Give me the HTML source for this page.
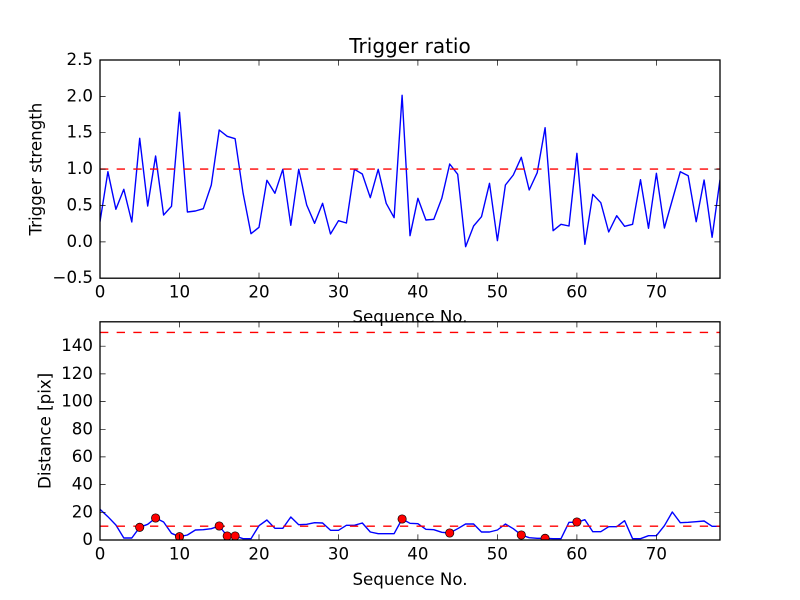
<!DOCTYPE html>
<html>
<head>
<meta charset="utf-8">
<style>
html,body{margin:0;padding:0;background:#fff;}
svg{display:block;}
text{font-family:"DejaVu Sans","Liberation Sans",sans-serif;fill:#000;}
</style>
</head>
<body>
<svg width="800" height="600" viewBox="0 0 800 600" xmlns="http://www.w3.org/2000/svg">
<rect x="0" y="0" width="800" height="600" fill="#fff"/>
<defs>
<clipPath id="c1"><rect x="100" y="60" width="620" height="218.2"/></clipPath>
<clipPath id="c2"><rect x="100" y="321.8" width="620" height="218.2"/></clipPath>
</defs>

<!-- ===== Top axes ===== -->
<g clip-path="url(#c1)">
<polyline fill="none" stroke="#0000ff" stroke-width="1.39" stroke-linejoin="round" points="100,221.7 107.9,171.7 115.9,209.3 123.8,189.3 131.8,222 139.7,138.3 147.7,206 155.6,156 163.6,215 171.5,206.3 179.5,112.3 187.4,212 195.4,211 203.3,208.7 211.3,185 219.2,130 227.2,136.3 235.1,138.7 243.1,193.3 251,233.7 259,227.3 266.9,180.3 274.9,193.3 282.8,169.3 290.8,225.3 298.7,169.3 306.7,205 314.6,223.3 322.6,203.3 330.5,234 338.5,220.7 346.4,223 354.4,169.3 362.3,174 370.3,197.7 378.2,169.3 386.2,203.3 394.1,217.7 402.1,95.3 410,235.7 417.9,198.3 425.9,220 433.8,219.3 441.8,198.3 449.7,164 457.7,174.3 465.6,246.7 473.6,226 481.5,216.7 489.5,183.3 497.4,240.7 505.4,185 513.3,175 521.3,157.3 529.2,190 537.2,172.7 545.1,127.7 553.1,230.7 561,224.3 569,226 576.9,153.3 584.9,244.3 592.8,194.3 600.8,202.7 608.7,232 616.7,215.7 624.6,226.3 632.6,224.3 640.5,179.7 648.5,228.3 656.4,173.3 664.4,228 672.3,200 680.3,171.7 688.2,175.7 696.2,221.7 704.1,180 712.1,237.3 720,179.7"/>
<line x1="100" y1="169.1" x2="720" y2="169.1" stroke="#ff0000" stroke-width="1.39" stroke-dasharray="8.33,8.33"/>
</g>
<!-- top ticks -->
<g stroke="#000" stroke-width="0.7" fill="none">
<path d="M100,278.2v-5.6 M179.5,278.2v-5.6 M259,278.2v-5.6 M338.5,278.2v-5.6 M417.9,278.2v-5.6 M497.4,278.2v-5.6 M576.9,278.2v-5.6 M656.4,278.2v-5.6"/>
<path d="M100,60v5.6 M179.5,60v5.6 M259,60v5.6 M338.5,60v5.6 M417.9,60v5.6 M497.4,60v5.6 M576.9,60v5.6 M656.4,60v5.6"/>
<path d="M100,278.2h5.6 M100,241.9h5.6 M100,205.5h5.6 M100,169.1h5.6 M100,132.7h5.6 M100,96.4h5.6 M100,60h5.6"/>
<path d="M720,278.2h-5.6 M720,241.9h-5.6 M720,205.5h-5.6 M720,169.1h-5.6 M720,132.7h-5.6 M720,96.4h-5.6 M720,60h-5.6"/>
</g>
<rect x="100" y="60" width="620" height="218.2" fill="none" stroke="#000" stroke-width="1.3"/>
<!-- top tick labels -->
<g font-size="16.67" text-anchor="end">
<text x="93" y="283.2">−0.5</text>
<text x="93" y="246.9">0.0</text>
<text x="93" y="210.5">0.5</text>
<text x="93" y="174.1">1.0</text>
<text x="93" y="137.7">1.5</text>
<text x="93" y="101.4">2.0</text>
<text x="93" y="65">2.5</text>
</g>
<g font-size="16.67" text-anchor="middle">
<text x="100" y="297.7">0</text>
<text x="179.5" y="297.7">10</text>
<text x="259" y="297.7">20</text>
<text x="338.5" y="297.7">30</text>
<text x="417.9" y="297.7">40</text>
<text x="497.4" y="297.7">50</text>
<text x="576.9" y="297.7">60</text>
<text x="656.4" y="297.7">70</text>
</g>
<text x="410" y="53" font-size="20" text-anchor="middle">Trigger ratio</text>
<text x="410" y="322.5" font-size="16.67" text-anchor="middle">Sequence No.</text>
<text transform="translate(41.3,169.1) rotate(-90)" font-size="16.67" text-anchor="middle">Trigger strength</text>

<!-- ===== Bottom axes ===== -->
<g clip-path="url(#c2)">
<polyline fill="none" stroke="#0000ff" stroke-width="1.39" stroke-linejoin="round" points="100,509.3 107.9,516.7 115.9,525 123.8,538 131.8,538 139.7,527.3 147.7,524.3 155.6,518 163.6,522 171.5,533.3 179.5,536.7 187.4,535 195.4,530 203.3,529.7 211.3,528.7 219.2,526 227.2,536 235.1,536 243.1,538.7 251,538.7 259,525.7 266.9,520 274.9,528.3 282.8,528.3 290.8,517 298.7,524.7 306.7,524.3 314.6,522.7 322.6,523 330.5,530.3 338.5,530.3 346.4,525.3 354.4,525.3 362.3,523 370.3,532 378.2,533.7 386.2,533.7 394.1,533.7 402.1,519 410,523.3 417.9,523.7 425.9,529.3 433.8,529.7 441.8,532.3 449.7,533 457.7,528.7 465.6,524 473.6,524 481.5,532 489.5,532 497.4,530 505.4,524 513.3,528.7 521.3,535 529.2,537.7 537.2,538.3 545.1,538.3 553.1,538.7 561,538.7 569,522.3 576.9,522.3 584.9,519.7 592.8,531.7 600.8,531.7 608.7,526.7 616.7,526.7 624.6,520.7 632.6,538.7 640.5,538.7 648.5,535.7 656.4,535.7 664.4,525.7 672.3,512 680.3,522.7 688.2,522.3 696.2,521.7 704.1,521 712.1,526.3 720,526.3"/>
<line x1="100" y1="526.2" x2="720" y2="526.2" stroke="#ff0000" stroke-width="1.39" stroke-dasharray="8.33,8.33"/>
<line x1="100" y1="332.4" x2="720" y2="332.4" stroke="#ff0000" stroke-width="1.39" stroke-dasharray="8.33,8.33"/>
<g fill="#ff0000" stroke="#000" stroke-width="0.7">
<circle cx="139.7" cy="527.3" r="4.17"/>
<circle cx="155.6" cy="518" r="4.17"/>
<circle cx="179.5" cy="536.7" r="4.17"/>
<circle cx="219.2" cy="526" r="4.17"/>
<circle cx="227.2" cy="536" r="4.17"/>
<circle cx="235.1" cy="536" r="4.17"/>
<circle cx="402.1" cy="519" r="4.17"/>
<circle cx="449.7" cy="533" r="4.17"/>
<circle cx="521.3" cy="535" r="4.17"/>
<circle cx="545.1" cy="538.3" r="4.17"/>
<circle cx="576.9" cy="522" r="4.17"/>
</g>
</g>
<g stroke="#000" stroke-width="0.7" fill="none">
<path d="M100,540v-5.6 M179.5,540v-5.6 M259,540v-5.6 M338.5,540v-5.6 M417.9,540v-5.6 M497.4,540v-5.6 M576.9,540v-5.6 M656.4,540v-5.6"/>
<path d="M100,321.8v5.6 M179.5,321.8v5.6 M259,321.8v5.6 M338.5,321.8v5.6 M417.9,321.8v5.6 M497.4,321.8v5.6 M576.9,321.8v5.6 M656.4,321.8v5.6"/>
<path d="M100,540h5.6 M100,512.3h5.6 M100,484.6h5.6 M100,456.9h5.6 M100,429.3h5.6 M100,401.6h5.6 M100,373.9h5.6 M100,346.2h5.6"/>
<path d="M720,540h-5.6 M720,512.3h-5.6 M720,484.6h-5.6 M720,456.9h-5.6 M720,429.3h-5.6 M720,401.6h-5.6 M720,373.9h-5.6 M720,346.2h-5.6"/>
</g>
<rect x="100" y="321.8" width="620" height="218.2" fill="none" stroke="#000" stroke-width="1.3"/>
<g font-size="16.67" text-anchor="end">
<text x="93" y="545">0</text>
<text x="93" y="517.3">20</text>
<text x="93" y="489.6">40</text>
<text x="93" y="461.9">60</text>
<text x="93" y="434.3">80</text>
<text x="93" y="406.6">100</text>
<text x="93" y="378.9">120</text>
<text x="93" y="351.2">140</text>
</g>
<g font-size="16.67" text-anchor="middle">
<text x="100" y="559.7">0</text>
<text x="179.5" y="559.7">10</text>
<text x="259" y="559.7">20</text>
<text x="338.5" y="559.7">30</text>
<text x="417.9" y="559.7">40</text>
<text x="497.4" y="559.7">50</text>
<text x="576.9" y="559.7">60</text>
<text x="656.4" y="559.7">70</text>
</g>
<text x="410" y="585" font-size="16.67" text-anchor="middle">Sequence No.</text>
<text transform="translate(50.5,430.9) rotate(-90)" font-size="16.67" text-anchor="middle">Distance [pix]</text>
</svg>
</body>
</html>
